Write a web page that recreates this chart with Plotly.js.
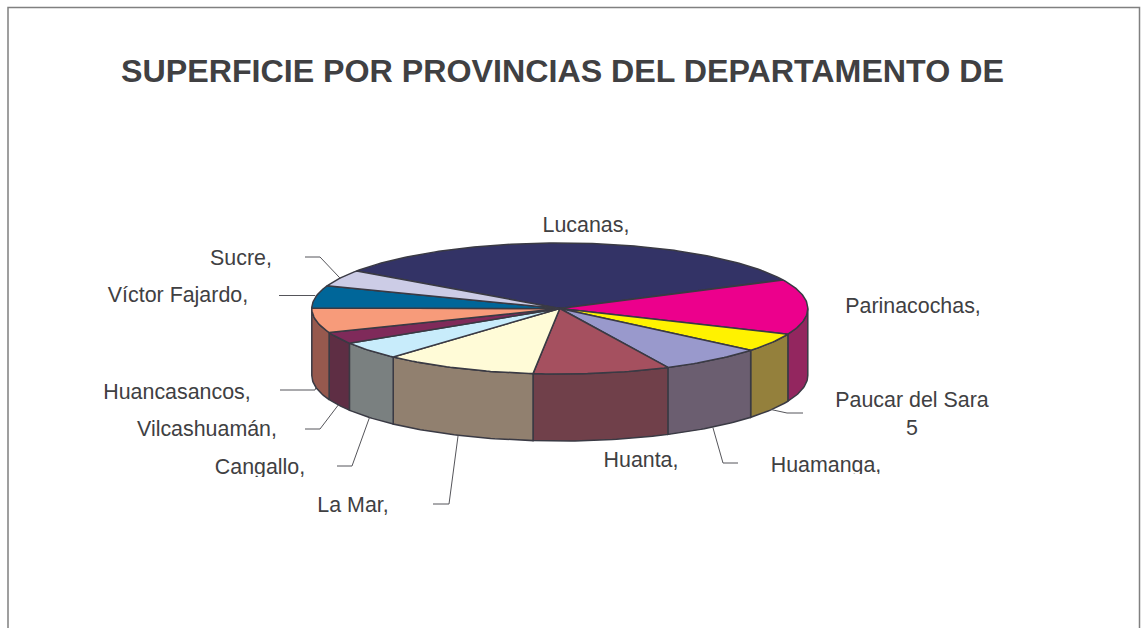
<!DOCTYPE html>
<html>
<head>
<meta charset="utf-8">
<script src="https://cdn.plot.ly/plotly-3.0.1.min.js"></script>
<style>html,body{margin:0;padding:0;background:#fff;overflow:hidden}#chart{width:1141px;height:628px}</style>
</head>
<body>
<div id="chart"></div>
<script>
const categories = ["Lucanas","Parinacochas","Paucar del Sara","Huamanga","Huanta","La Mar","Cangallo","Vilcashuamán","Huancasancos","Víctor Fajardo","Sucre"];
const shares = [33.1,13.6,4.6,6.8,8.9,10,4.4,2.9,6.1,5.5,4.1];
const topColors = ["#333366","#EC008C","#FFF200","#9999CC","#A5505F","#FFFBD7","#C8ECFB","#7F2A5A","#F79B7A","#006699","#CCCCE6"];
const sideColors = ["#26264d","#93265F","#94803C","#6B5E70","#70404A","#91806F","#7A8080","#5E2E44","#96594E","#004d73","#99999f"];
const labelText = ["Lucanas,","Parinacochas,","Paucar del Sara<br>5","Huamanga,","Huanta,","La Mar,","Cangallo,","Vilcashuamán,","Huancasancos,","Víctor Fajardo,","Sucre,"];
const labelX = [586,913,912,826,641,353,260,207,177,178,241];
const labelY = [227,308,416,467,462,507,469,431,394,297,260];
// leader elbow/end per slice (null = no leader): [elbowX, elbowY, endX]
const leaders = [null,null,[787,413,803],[723,463,738],null,[449,504,433],[352,466,337],[320,429,305],[315,390,280],[315,295.5,279],[320,257,305]];
const pieCx = 559.8, pieCy = 308.5, pieRx = 248, pieRy = 65.5, pieDepth = 67, startDeg = 145;
const inkColor = "#3A3A44", textColor = "#404042", frameColor = "#808080";

const rad = d => d * Math.PI / 180;
const rimX = t => pieCx + pieRx * Math.cos(rad(t));
const rimY = t => pieCy - pieRy * Math.sin(rad(t));
const total = shares.reduce((a, b) => a + b, 0);
function arc(from, to) {            // clockwise, from > to, degrees
  const out = [], n = Math.max(2, Math.ceil(from - to));
  for (let i = 0; i <= n; i++) out.push(from + (to - from) * i / n);
  return out;
}
const spans = [];
let cursor = startDeg;
shares.forEach(v => { const next = cursor - v / total * 360; spans.push([cursor, next]); cursor = next; });

const traces = [];
const base = {type: "scatter", mode: "lines", fill: "toself", showlegend: false, hoverinfo: "name"};
// side walls: only the part of each slice on the front half of the rim
spans.forEach(([a, b], i) => {
  const from = Math.min(a, 0), to = Math.max(b, -180);
  if (from <= to) return;
  const ts = arc(from, to);
  const xs = ts.map(rimX).concat(ts.slice().reverse().map(rimX));
  const ys = ts.map(rimY).concat(ts.slice().reverse().map(t => rimY(t) + pieDepth));
  xs.push(xs[0]); ys.push(ys[0]);
  traces.push(Object.assign({}, base, {name: categories[i], x: xs, y: ys, fillcolor: sideColors[i],
    line: {color: inkColor, width: 1.5}}));
});
// top faces
spans.forEach(([a, b], i) => {
  const ts = arc(a, b);
  const xs = [pieCx].concat(ts.map(rimX), [pieCx]);
  const ys = [pieCy].concat(ts.map(rimY), [pieCy]);
  traces.push(Object.assign({}, base, {name: categories[i], x: xs, y: ys, fillcolor: topColors[i],
    line: {color: inkColor, width: 1.5}}));
});
// leader lines start on the rim at each slice's middle angle
leaders.forEach((l, i) => {
  if (!l) return;
  const mid = (spans[i][0] + spans[i][1]) / 2;
  const front = mid < 0 && mid > -180;
  const sx = rimX(mid), sy = rimY(mid) + (front ? pieDepth : 0);
  traces.push({type: "scatter", mode: "lines", showlegend: false, hoverinfo: "skip",
    x: [sx, l[0], l[2]], y: [sy, l[1], l[1]], line: {color: "#55555a", width: 1}});
});
traces.push({type: "scatter", mode: "text", showlegend: false, hoverinfo: "skip",
  x: labelX, y: labelY, text: labelText, textposition: "middle center",
  textfont: {family: "Liberation Sans, Arial, sans-serif", size: 21.4, color: textColor}});
// the reference crops the descenders of two labels
traces.push({type: "scatter", mode: "lines", fill: "toself", fillcolor: "#fff", showlegend: false, hoverinfo: "skip",
  line: {width: 0},
  x: [765,890,890,765,765,null,210,310,310,210,210],
  y: [474,474,482,482,474,null,477,477,485,485,477]});

const layout = {
  width: 1141, height: 628, margin: {l: 0, r: 0, t: 0, b: 0},
  paper_bgcolor: "#fff", plot_bgcolor: "#fff", showlegend: false,
  xaxis: {range: [0, 1141], visible: false, fixedrange: true},
  yaxis: {range: [628, 0], visible: false, fixedrange: true},
  shapes: [{type: "path", xref: "x", yref: "y", path: "M8,628 L8,7.5 L1139.5,7.5 L1139.5,628",
    line: {color: frameColor, width: 1.5}}],
  annotations: [{xref: "x", yref: "y", x: 562.5, y: 70.5, showarrow: false, xanchor: "center", yanchor: "middle",
    text: "<b>SUPERFICIE POR PROVINCIAS DEL DEPARTAMENTO DE</b>",
    font: {family: "Liberation Sans, Arial, sans-serif", size: 32.2, color: textColor}}]
};
Plotly.newPlot("chart", traces, layout, {displayModeBar: false, staticPlot: true});
</script>
</body>
</html>
